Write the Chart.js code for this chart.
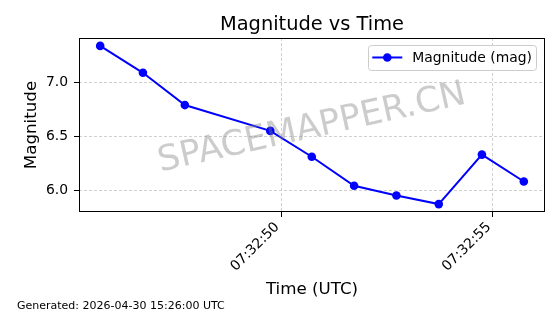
<!DOCTYPE html>
<html>
<head>
<meta charset="utf-8">
<script src="https://cdn.jsdelivr.net/npm/chart.js@4"></script>
<style>
  html, body { margin: 0; padding: 0; background: #fff; }
</style>
</head>
<body>
<canvas id="chart" width="560" height="314"></canvas>
<script>
// data
var timeLabels = ['07:32:45.72', '07:32:46.73', '07:32:47.72', '07:32:49.74', '07:32:50.72',
                  '07:32:51.72', '07:32:52.72', '07:32:53.72', '07:32:54.74', '07:32:55.73'];
var magnitudes = [7.34, 7.09, 6.79, 6.55, 6.31, 6.04, 5.95, 5.87, 6.33, 6.08];
var xTickLabels = ['07:32:50', '07:32:55'];
var yTicks = [6.0, 6.5, 7.0];
var seriesLabel = 'Magnitude (mag)';
var footerText = 'Generated: 2026-04-30 15:26:00 UTC';
var watermarkText = 'SPACEMAPPER.CN';

var FONT = "'DejaVu Sans', sans-serif";

function toSeconds(t) {
  var p = t.split(':');
  return (+p[0]) * 3600 + (+p[1]) * 60 + (+p[2]);
}
function two(n) { return (n < 10 ? '0' : '') + n; }
function fmtTime(s) {
  s = Math.round(s);
  return two(Math.floor(s / 3600)) + ':' + two(Math.floor(s / 60) % 60) + ':' + two(s % 60);
}

var xs = timeLabels.map(toSeconds);
var points = xs.map(function (x, i) { return { x: x, y: magnitudes[i] }; });
var xTicks = xTickLabels.map(toSeconds);

// matplotlib-like 5% margins
var xMin = Math.min.apply(null, xs), xMax = Math.max.apply(null, xs);
var yMin = Math.min.apply(null, magnitudes), yMax = Math.max.apply(null, magnitudes);
var xm = (xMax - xMin) * 0.05, ym = (yMax - yMin) * 0.05;

var extras = {
  id: 'extras',
  afterDatasetsDraw: function (chart) {
    var ctx = chart.ctx, a = chart.chartArea;
    // watermark
    ctx.save();
    ctx.translate((a.left + a.right) / 2, (a.top + a.bottom) / 2 + 3.5);
    ctx.rotate(-12.5 * Math.PI / 180);
    ctx.font = '35px ' + FONT;
    ctx.fillStyle = 'rgba(128,128,128,0.4)';
    ctx.textAlign = 'center';
    ctx.textBaseline = 'middle';
    ctx.fillText(watermarkText, 0, 0);
    ctx.restore();
  },
  afterDraw: function (chart) {
    var ctx = chart.ctx, a = chart.chartArea;
    ctx.save();
    // axes frame
    ctx.strokeStyle = '#000';
    ctx.lineWidth = 1;
    ctx.strokeRect(Math.round(a.left) + 0.5, Math.round(a.top) + 0.5,
                   Math.round(a.right - a.left) - 1, Math.round(a.bottom - a.top) - 1);

    // legend
    var ds = chart.data.datasets[0];
    ctx.font = '13.9px ' + FONT;
    var tw = ctx.measureText(seriesLabel).width;
    var bw = 4 + 30 + 10 + tw + 4, bh = 25;
    var bx = a.right - 9 - bw, by = a.top + 7;
    ctx.beginPath();
    ctx.roundRect(Math.round(bx) + 0.5, by + 0.5, Math.round(bw), bh, 3);
    ctx.fillStyle = 'rgba(255,255,255,0.8)';
    ctx.fill();
    ctx.strokeStyle = '#cccccc';
    ctx.stroke();
    var cy = by + bh / 2;
    ctx.beginPath();
    ctx.moveTo(bx + 4, cy);
    ctx.lineTo(bx + 34, cy);
    ctx.strokeStyle = ds.borderColor;
    ctx.lineWidth = ds.borderWidth;
    ctx.stroke();
    ctx.beginPath();
    ctx.arc(bx + 19, cy, ds.pointRadius, 0, Math.PI * 2);
    ctx.fillStyle = ds.pointBackgroundColor;
    ctx.fill();
    ctx.fillStyle = '#000';
    ctx.textAlign = 'left';
    ctx.textBaseline = 'middle';
    ctx.fillText(seriesLabel, bx + 44, cy + 1);

    // footer
    ctx.font = '11px ' + FONT;
    ctx.textBaseline = 'alphabetic';
    ctx.fillText(footerText, 17, 308.5);
    ctx.restore();
  }
};

var gridStyle = {
  color: 'rgba(176,176,176,0.75)',
  lineWidth: 0.8,
  drawTicks: true,
  tickLength: 5,
  tickColor: '#000',
  tickWidth: 1,
  tickBorderDash: []
};
var borderStyle = { display: false, dash: [3, 2] };

new Chart(document.getElementById('chart').getContext('2d'), {
  type: 'line',
  data: {
    datasets: [{
      label: seriesLabel,
      data: points,
      borderColor: '#0000ff',
      backgroundColor: '#0000ff',
      borderWidth: 2,
      pointRadius: 4.3,
      pointBackgroundColor: '#0000ff',
      pointBorderWidth: 0,
      tension: 0,
      fill: false
    }]
  },
  options: {
    responsive: false,
    animation: false,
    devicePixelRatio: 1,
    layout: { padding: { left: 0, right: 15, top: 0, bottom: 0 } },
    plugins: {
      legend: { display: false },
      tooltip: { enabled: false },
      title: {
        display: true,
        fullSize: false,
        text: 'Magnitude vs Time',
        color: '#000',
        font: { family: FONT, size: 19.4, weight: 'normal', lineHeight: 1.2 },
        padding: { top: 13.8, bottom: 0.9 }
      }
    },
    scales: {
      x: {
        type: 'linear',
        min: xMin - xm,
        max: xMax + xm,
        afterBuildTicks: function (s) { s.ticks = xTicks.map(function (v) { return { value: v }; }); },
        afterFit: function (s) { s.height = 102; },
        grid: gridStyle,
        border: borderStyle,
        ticks: {
          color: '#000',
          font: { family: FONT, size: 13.9 },
          minRotation: 45,
          maxRotation: 45,
          padding: 2,
          labelOffset: -4,
          autoSkip: false,
          callback: function (v) { return fmtTime(v); }
        },
        title: {
          display: true,
          text: 'Time (UTC)',
          color: '#000',
          font: { family: FONT, size: 16.7 },
          padding: { top: 0, bottom: 14 }
        }
      },
      y: {
        min: yMin - ym,
        max: yMax + ym,
        afterBuildTicks: function (s) { s.ticks = yTicks.map(function (v) { return { value: v }; }); },
        afterFit: function (s) { s.width = 79; },
        grid: gridStyle,
        border: borderStyle,
        ticks: {
          color: '#000',
          font: { family: FONT, size: 13.9 },
          padding: 6,
          callback: function (v) { return v.toFixed(1); }
        },
        title: {
          display: true,
          text: 'Magnitude',
          color: '#000',
          font: { family: FONT, size: 16.7 },
          padding: { top: 22, bottom: 0 }
        }
      }
    }
  },
  plugins: [extras]
});
</script>
</body>
</html>
